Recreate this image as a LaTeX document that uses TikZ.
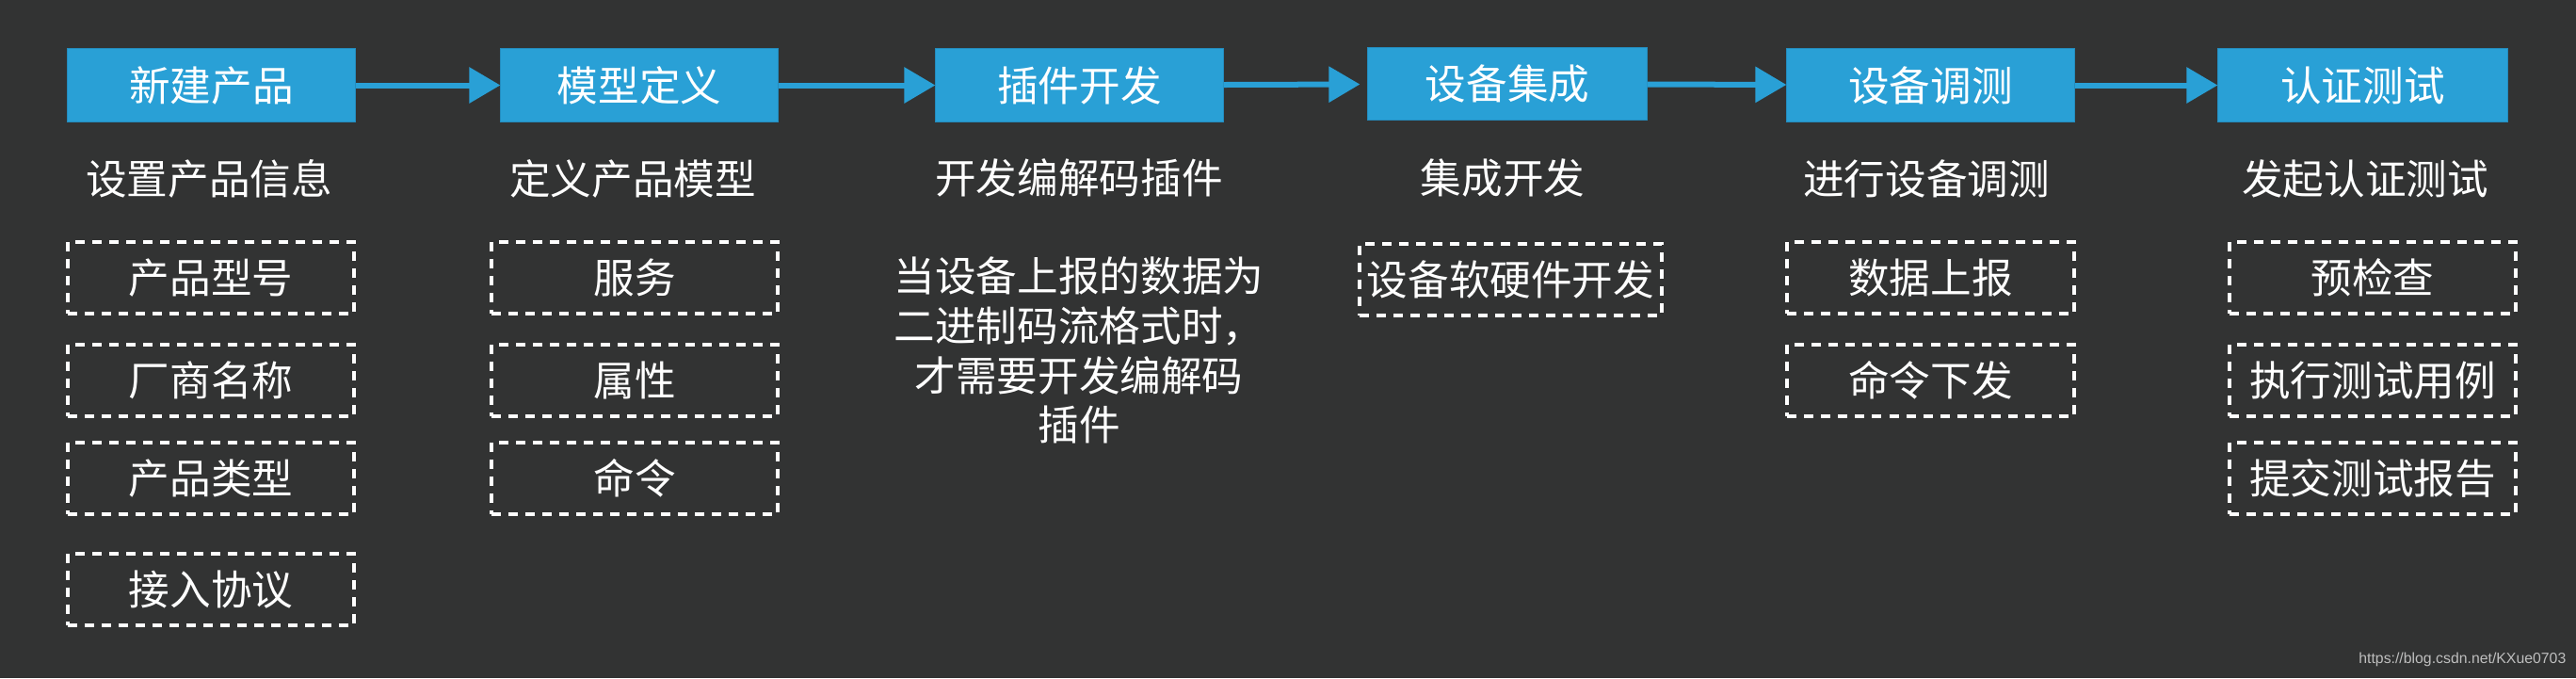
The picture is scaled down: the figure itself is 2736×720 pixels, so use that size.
\documentclass[tikz,border=0pt]{standalone}
\usepackage{fontspec}
\setmainfont{Noto Sans CJK SC}
\newfontfamily\urlfont{Liberation Sans}
\usetikzlibrary{arrows.meta}
\definecolor{slideGray}{RGB}{50,51,51}
\definecolor{stageBlue}{RGB}{41,160,214}
\definecolor{stageEdge}{RGB}{36,140,190}
\definecolor{urlGray}{RGB}{190,190,190}

\begin{document}
\begin{tikzpicture}[x=0.01cm,y=-0.01cm]
\fontsize{12.4pt}{15pt}\selectfont
  \tikzstyle{stageStyle}=[fill=stageBlue,draw=stageEdge,line width=0.01cm,text=white,minimum height=0.77cm,inner sep=0pt]
  \tikzstyle{itemStyle}=[draw=white,line width=0.04cm,dash pattern=on 0.1cm off 0.08cm,text=white,minimum width=3.04cm,minimum height=0.76cm,inner sep=0pt]
  \tikzstyle{emptyStyle}=[text=white,align=center,inner sep=0pt]
  \tikzstyle{flowStyle}=[-{Triangle[length=0.33cm,width=0.37cm]},line width=0.06cm,draw=stageBlue]

  \fill[slideGray] (0,0) rectangle (2736,720);
  \useasboundingbox (0,0) rectangle (2736,720);

  \begin{scope}
    \node[stageStyle,minimum width=3.05cm](newProduct) at (224.5,90.5) {新建产品};
    \node[stageStyle,minimum width=2.94cm](modelDef) at (679,90.5) {模型定义};
    \node[stageStyle,minimum width=3.05cm](pluginDev) at (1146.5,90.5) {插件开发};
    \node[stageStyle,minimum width=2.96cm](integration) at (1601,89) {设备集成};
    \node[stageStyle,minimum width=3.05cm](debugging) at (2050.5,90.5) {设备调测};
    \node[stageStyle,minimum width=3.07cm](certTest) at (2509.5,90.5) {认证测试};
   \draw[flowStyle] (newProduct) -- (modelDef);
   \draw[flowStyle] (modelDef) -- (pluginDev);
   \draw[flowStyle,shorten >=0.08cm] (pluginDev) -- (integration);
   \draw[flowStyle] (integration) -- (debugging);
   \draw[flowStyle] (debugging) -- (certTest);

    \node[emptyStyle](newProductSub) at (222,190) {设置产品信息};
    \node[emptyStyle](modelDefSub) at (672,190) {定义产品模型};
    \node[emptyStyle](pluginDevSub) at (1146,189) {开发编解码插件};
    \node[emptyStyle](integrationSub) at (1596,189) {集成开发};
    \node[emptyStyle](debuggingSub) at (2046,190) {进行设备调测};
    \node[emptyStyle](certTestSub) at (2512,190) {发起认证测试};

    % product info
    \node[itemStyle](productModel) at (224,295) {产品型号};
    \node[itemStyle](vendorName) at (224,404) {厂商名称};
    \node[itemStyle](productType) at (224,508) {产品类型};
    \node[itemStyle](accessProtocol) at (224,626) {接入协议};

    % profile
    \node[itemStyle](service) at (674,295) {服务};
    \node[itemStyle](property) at (674,404) {属性};
    \node[itemStyle](command) at (674,508) {命令};

    \node[emptyStyle](codecNote) at (1146,372) {当设备上报的数据为\\二进制码流格式时，\\才需要开发编解码\\插件};

    \node[itemStyle,minimum width=3.21cm](deviceDev) at (1604.5,297) {设备软硬件开发};

    \node[itemStyle](dataReport) at (2050.5,295) {数据上报};
    \node[itemStyle](commandSend) at (2050.5,404) {命令下发};

    \node[itemStyle](preCheck) at (2520,295) {预检查};
    \node[itemStyle](runCases) at (2520,404) {执行测试用例};
    \node[itemStyle](submitReport) at (2520,508) {提交测试报告};
  \end{scope}

  \node[anchor=east,text=urlGray,font=\urlfont\fontsize{4.5pt}{5pt}\selectfont,inner sep=0pt](url) at (2726,700) {https://blog.csdn.net/KXue0703};

\end{tikzpicture}
\end{document}
